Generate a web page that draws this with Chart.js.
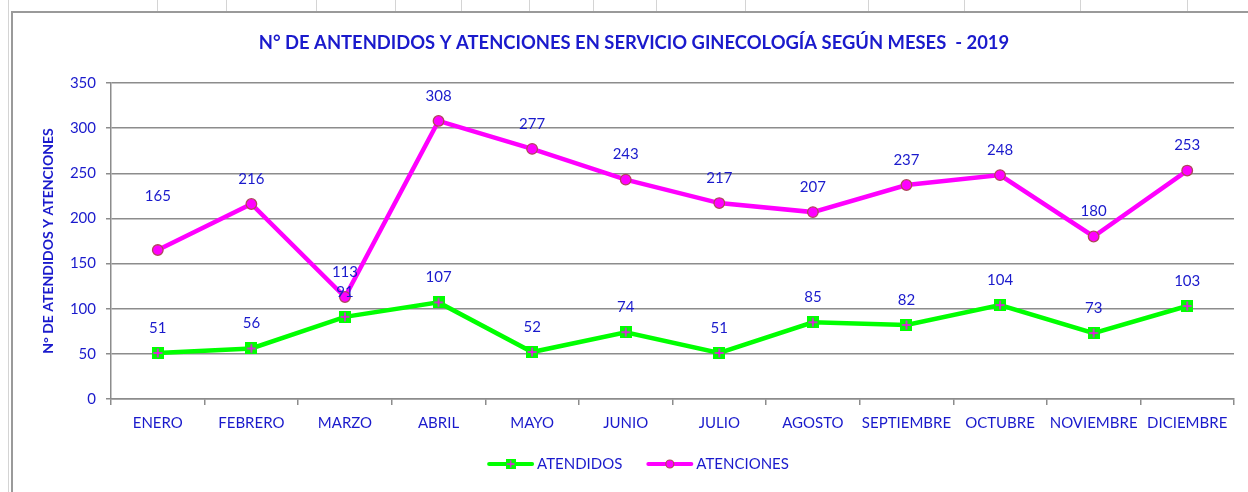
<!DOCTYPE html>
<html>
<head>
<meta charset="utf-8">
<script src="https://cdn.jsdelivr.net/npm/chart.js@4"></script>
<style>
  html, body { margin: 0; padding: 0; background: #fff; }
  body { width: 1248px; height: 492px; position: relative; overflow: hidden; }
  .cell-v { position: absolute; top: 0; width: 1px; height: 12px; background: #d4d4d4; }
  .sheet-left { position: absolute; left: 8px; top: 0; width: 1px; height: 492px; background: #d4d4d4; }
  #frame { position: absolute; left: 11px; top: 11px; width: 1300px; height: 500px;
           border-left: 2px solid #9a9a9a; border-top: 2px solid #9a9a9a; background: #fff; }
  #wrap { position: absolute; left: 0; top: 0; width: 1248px; height: 492px; }
</style>
</head>
<body>
<div class="sheet-left"></div>
<div id="frame"></div>
<div id="wrap"><canvas id="chart" width="1248" height="492"></canvas></div>
<script>
const months = ['ENERO', 'FEBRERO', 'MARZO', 'ABRIL', 'MAYO', 'JUNIO', 'JULIO', 'AGOSTO', 'SEPTIEMBRE', 'OCTUBRE', 'NOVIEMBRE', 'DICIEMBRE'];
const atendidos = [51, 56, 91, 107, 52, 74, 51, 85, 82, 104, 73, 103];
const atenciones = [165, 216, 113, 308, 277, 243, 217, 207, 237, 248, 180, 253];
const yTicks = [0, 50, 100, 150, 200, 250, 300, 350];
const chartTitle = 'N° DE ANTENDIDOS Y ATENCIONES EN SERVICIO GINECOLOGÍA SEGÚN MESES  - 2019';
const yTitle = 'N° DE ATENDIDOS Y ATENCIONES';

const blue = '#1a1acc';
const fontName = 'Lato, "Open Sans", sans-serif';

// spreadsheet cell lines peeking out above the chart
[157, 226, 316, 395, 461, 529, 593, 656, 745, 868, 964, 1080, 1187].forEach(x => {
    const d = document.createElement('div');
    d.className = 'cell-v';
    d.style.left = x + 'px';
    document.body.insertBefore(d, document.getElementById('frame'));
});

function squarePlus() {
    const c = document.createElement('canvas');
    c.width = 12; c.height = 12;
    const g = c.getContext('2d');
    g.fillStyle = '#00ff00';
    g.fillRect(0, 0, 12, 12);
    g.strokeStyle = '#ff00ff';
    g.lineWidth = 1.5;
    g.beginPath();
    g.moveTo(6, 1.5); g.lineTo(6, 10.5);
    g.moveTo(1.5, 6); g.lineTo(10.5, 6);
    g.stroke();
    return c;
}
const plusMarker = squarePlus();

// titles drawn by hand so they sit where Excel put them
const titles = {
    id: 'titles',
    afterDraw(chart) {
        const ctx = chart.ctx;
        ctx.save();
        ctx.fillStyle = blue;
        ctx.textAlign = 'center';
        ctx.textBaseline = 'middle';
        ctx.font = 'bold 18.4px ' + fontName;
        ctx.fillText(chartTitle, 634, 43);
        ctx.translate(48, 241);
        ctx.rotate(-Math.PI / 2);
        ctx.font = 'bold 14px ' + fontName;
        ctx.fillText(yTitle, 0, 0);
        ctx.restore();
    }
};

const pointLabels = {
    id: 'pointLabels',
    afterDatasetsDraw(chart) {
        const ctx = chart.ctx;
        ctx.save();
        ctx.font = '15px ' + fontName;
        ctx.fillStyle = blue;
        ctx.textAlign = 'center';
        ctx.textBaseline = 'middle';
        chart.data.datasets.forEach((ds, di) => {
            const meta = chart.getDatasetMeta(di);
            meta.data.forEach((pt, i) => {
                // Excel label for the first ATENCIONES point was dragged higher
                const lift = (di === 1 && i === 0) ? 54 : 25;
                ctx.fillText(String(ds.data[i]), pt.x, pt.y - lift);
            });
        });
        ctx.restore();
    }
};

const lineLegend = {
    id: 'lineLegend',
    afterDraw(chart) {
        const ctx = chart.ctx;
        const y = 464;
        ctx.save();
        ctx.font = '15px ' + fontName;
        ctx.textBaseline = 'middle';
        const items = chart.data.datasets.map(ds => ({ ds, w: 47 + 3 + ctx.measureText(ds.label).width }));
        const gap = 24;
        const total = items.reduce((s, it) => s + it.w, 0) + gap * (items.length - 1);
        let x = (chart.width + 12) / 2 + 8 - total / 2;
        items.forEach(it => {
            ctx.strokeStyle = it.ds.borderColor;
            ctx.lineWidth = 4;
            ctx.lineCap = 'round';
            ctx.beginPath();
            ctx.moveTo(x + 2, y);
            ctx.lineTo(x + 45, y);
            ctx.stroke();
            const cx = x + 23.5;
            if (it.ds.label === 'ATENDIDOS') {
                ctx.drawImage(plusMarker, cx - 5, y - 5, 10, 10);
            } else {
                ctx.beginPath();
                ctx.arc(cx, y, 4, 0, Math.PI * 2);
                ctx.fillStyle = '#ff00ff';
                ctx.fill();
                ctx.lineWidth = 1.2;
                ctx.strokeStyle = '#b0485a';
                ctx.stroke();
            }
            ctx.fillStyle = blue;
            ctx.textAlign = 'left';
            ctx.fillText(it.ds.label, x + 50, y);
            x += it.w + gap;
        });
        ctx.restore();
    }
};

new Chart(document.getElementById('chart'), {
    type: 'line',
    data: {
        labels: months,
        datasets: [
            {
                label: 'ATENDIDOS',
                data: atendidos,
                borderColor: '#00ff00',
                backgroundColor: '#00ff00',
                borderWidth: 4.5,
                pointStyle: plusMarker,
                pointRadius: 6,
                tension: 0
            },
            {
                label: 'ATENCIONES',
                data: atenciones,
                borderColor: '#ff00ff',
                backgroundColor: '#ff00ff',
                borderWidth: 4.5,
                pointStyle: 'circle',
                pointRadius: 5.3,
                pointBackgroundColor: '#ff00ff',
                pointBorderColor: '#b0485a',
                pointBorderWidth: 1.3,
                tension: 0
            }
        ]
    },
    options: {
        responsive: false,
        animation: false,
        devicePixelRatio: 1,
        layout: { padding: { left: 12, right: 14, top: 83, bottom: 0 } },
        plugins: {
            legend: { display: false },
            tooltip: { enabled: false },
            title: { display: false }
        },
        scales: {
            x: {
                offset: true,
                afterFit: s => { s.height = 93; },
                grid: { display: true, offset: true, drawOnChartArea: false, drawTicks: true, tickLength: 6, color: '#8c8c8c', lineWidth: 1.5 },
                border: { display: true, color: '#8c8c8c', width: 1.5 },
                ticks: { color: blue, font: { family: fontName, size: 15 }, padding: 9, maxRotation: 0, autoSkip: false }
            },
            y: {
                min: 0,
                max: 350,
                afterFit: s => { s.width = 99; },
                afterBuildTicks: s => { s.ticks = yTicks.map(v => ({ value: v })); },
                grid: { color: '#8c8c8c', lineWidth: 1.5, tickLength: 5 },
                border: { display: true, color: '#8c8c8c', width: 1.5 },
                ticks: { color: blue, font: { family: fontName, size: 15 }, padding: 10 },
                title: { display: false }
            }
        }
    },
    plugins: [titles, pointLabels, lineLegend]
});
</script>
</body>
</html>
